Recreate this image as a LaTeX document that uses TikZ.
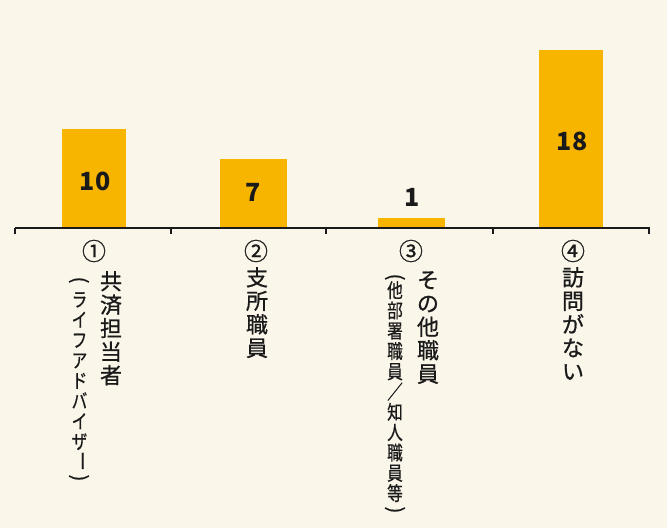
\documentclass[tikz,border=0pt]{standalone}
\usepackage{fontspec}
\newfontfamily\jp{Noto Sans CJK JP}
\newfontfamily\jpl{Noto Sans CJK JP}[FakeBold=0.8]
\newfontfamily\jpn{Noto Sans CJK JP}[FakeBold=0.6, FakeStretch=0.8]
\definecolor{bg}{HTML}{FBF6EA}
\definecolor{barcol}{HTML}{F7B500}
\definecolor{ink}{HTML}{1A1A1A}
\newcommand{\tatebar}{\smash{\rotatebox[origin=c]{-90}{\scalebox{1.3}[1]{ー}}}}

\begin{document}
\begin{tikzpicture}[
x=1pt, y=-1pt,
bar/.style={fill=barcol},
valnote/.style={font=\jp\bfseries\fontsize{25}{25}\selectfont, text=ink, inner sep=0pt},
circnum/.style={font=\jpl\fontsize{24}{24}\selectfont, text=ink, inner sep=0pt},
vlab/.style={font=\jpl\fontsize{22}{23.5}\selectfont, text=ink, align=center, anchor=north, inner sep=0pt},
sublab/.style={font=\jpn\fontsize{19.5}{20.3}\selectfont, text=ink, align=center, anchor=north, inner sep=0pt},
paren/.style={font=\jpl\fontsize{20}{20}\selectfont, text=ink, inner sep=0pt}
]

\useasboundingbox[fill=bg] (0,0) rectangle (667,528);

% bars
\fill [bar] (62,228) rectangle (126,129);
\fill [bar] (220,228) rectangle (287,159);
\fill [bar] (378,228) rectangle (445,218);
\fill [bar] (539,228) rectangle (603,50);

% axis
\draw [ink, line width=2pt] (15,228) -- (650,228);
\foreach \x in {15,171,326,493,649}
  \draw [ink, line width=1.3pt] (\x,228) -- (\x,234);

% values
\node (v1) at (95,181) [valnote] {10};
\node (v2) at (253,192) [valnote] {7};
\node (v3) at (412,197) [valnote] {1};
\node (v4) at (572,141) [valnote] {18};

% numbers
\node (n1) at (94,251) [circnum] {①};
\node (n2) at (256,251) [circnum] {②};
\node (n3) at (411,251) [circnum] {③};
\node (n4) at (573,251) [circnum] {④};

% labels
\node (c1) at (111,271) [vlab] {共\\済\\担\\当\\者};
\node (p1o) at (79,280) [paren] {\rotatebox{-90}{(}};
\node (p1) at (79.5,292) [sublab] {ラ\\イ\\フ\\ア\\ド\\バ\\イ\\ザ\\[-4pt]\tatebar};
\node (p1c) at (79,478) [paren] {\rotatebox{-90}{)}};

\node (c2) at (257,267) [vlab] {支\\所\\職\\員};

\node (c3) at (428,271) [vlab] {そ\\の\\他\\職\\員};
\node (p3o) at (395,277) [paren] {\rotatebox{-90}{(}};
\node (p3) at (395,281) [sublab] {他\\部\\署\\職\\員\\／\\知\\人\\職\\員\\等};
\node (p3c) at (395,510) [paren] {\rotatebox{-90}{)}};

\node (c4) at (573,267) [vlab] {訪\\問\\が\\な\\い};

\end{tikzpicture}
\end{document}
